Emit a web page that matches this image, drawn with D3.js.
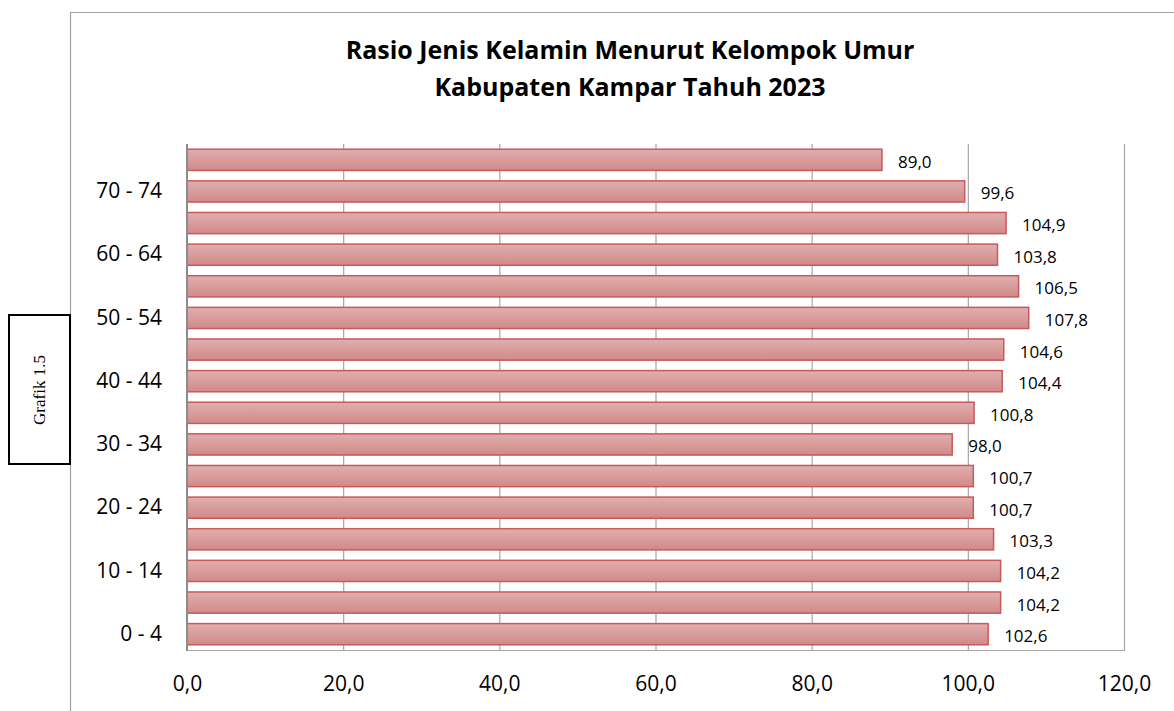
<!DOCTYPE html>
<html>
<head>
<meta charset="utf-8">
<script src="https://cdn.jsdelivr.net/npm/d3@7"></script>
<style>
  body { margin: 0; background: #fff; }
  text { font-family: "Open Sans", "Noto Sans", sans-serif; }
</style>
</head>
<body>
<div id="chart"></div>
<script>
// age groups, bottom to top
var ageGroups = ["0 - 4", "5 - 9", "10 - 14", "15 - 19", "20 - 24", "25 - 29", "30 - 34", "35 - 39",
    "40 - 44", "45 - 49", "50 - 54", "55 - 59", "60 - 64", "65 - 69", "70 - 74", "75+"];
var sexRatio = [102.6, 104.2, 104.2, 103.3, 100.7, 100.7, 98.0, 100.8,
    104.4, 104.6, 107.8, 106.5, 103.8, 104.9, 99.6, 89.0];
var xTicks = [0, 20, 40, 60, 80, 100, 120];
var titleLines = ["Rasio Jenis Kelamin Menurut Kelompok Umur", "Kabupaten Kampar Tahuh 2023"];

var width = 1174, height = 711;
var plot = { left: 187, right: 1124, top: 144, bottom: 650 };

var svg = d3.select("#chart").append("svg")
    .attr("width", width)
    .attr("height", height);

var defs = svg.append("defs");
var grad = defs.append("linearGradient")
    .attr("id", "barFill")
    .attr("x1", 0).attr("y1", 0).attr("x2", 0).attr("y2", 1);
grad.append("stop").attr("offset", "0%").attr("stop-color", "#e0afaf");
grad.append("stop").attr("offset", "100%").attr("stop-color", "#d18989");

// outer chart frame
svg.append("path")
    .attr("d", "M70.5," + height + "V12.5H" + width)
    .attr("fill", "none")
    .attr("stroke", "#a0a0a0")
    .attr("stroke-width", 1.2);

// side box
svg.append("rect")
    .attr("x", 9).attr("y", 315)
    .attr("width", 61).attr("height", 149)
    .attr("fill", "#fff")
    .attr("stroke", "#000")
    .attr("stroke-width", 2);
svg.append("text")
    .attr("transform", "translate(45,390) rotate(-90)")
    .attr("text-anchor", "middle")
    .style("font-family", "'Liberation Serif', 'DejaVu Serif', serif")
    .style("font-size", "17px")
    .text("Grafik 1.5");

// title
svg.selectAll(".title")
    .data(titleLines)
    .enter().append("text")
    .attr("class", "title")
    .attr("x", 630)
    .attr("y", function (d, i) { return 59 + i * 37; })
    .attr("text-anchor", "middle")
    .style("font-weight", "bold")
    .style("font-size", "25px")
    .text(function (d) { return d; });

var x = d3.scaleLinear()
    .domain([0, 120])
    .range([plot.left, plot.right]);

var y = d3.scaleBand()
    .domain(ageGroups.slice().reverse())
    .range([plot.top, plot.bottom])
    .paddingInner(0.33)
    .paddingOuter(0.165);

var fmt = function (v) { return d3.format(".1f")(v).replace(".", ","); };

// gridlines
svg.append("g")
    .selectAll("line")
    .data(xTicks.slice(1))
    .enter().append("line")
    .attr("x1", function (d) { return x(d) + 0.5; })
    .attr("x2", function (d) { return x(d) + 0.5; })
    .attr("y1", plot.top)
    .attr("y2", plot.bottom)
    .attr("stroke", "#a6a6a6")
    .attr("stroke-width", 1.2);

// bottom border
svg.append("line")
    .attr("x1", plot.left).attr("x2", plot.right + 1)
    .attr("y1", plot.bottom + 0.5).attr("y2", plot.bottom + 0.5)
    .attr("stroke", "#a6a6a6")
    .attr("stroke-width", 1.2);

// bars
svg.append("g")
    .selectAll("rect")
    .data(ageGroups)
    .enter().append("rect")
    .attr("x", x(0))
    .attr("y", function (d) { return y(d); })
    .attr("width", function (d, i) { return x(sexRatio[i]) - x(0); })
    .attr("height", y.bandwidth())
    .attr("fill", "url(#barFill)")
    .attr("stroke", "#c9595a")
    .attr("stroke-width", 1.5);

// value labels
svg.append("g")
    .selectAll("text")
    .data(ageGroups)
    .enter().append("text")
    .attr("x", function (d, i) { return x(sexRatio[i]) + 16; })
    .attr("y", function (d) { return y(d) + y.bandwidth() / 2 + 2; })
    .attr("dy", "0.35em")
    .style("font-size", "17px")
    .text(function (d, i) { return fmt(sexRatio[i]); });

// y axis line
svg.append("line")
    .attr("x1", plot.left).attr("x2", plot.left)
    .attr("y1", plot.top).attr("y2", plot.bottom + 1)
    .attr("stroke", "#8c8c8c")
    .attr("stroke-width", 2);

// y labels, every other group
var yAxis = d3.axisLeft(y)
    .tickSize(0)
    .tickPadding(25)
    .tickValues(ageGroups.filter(function (d, i) { return i % 2 === 0; }));
var yg = svg.append("g")
    .attr("transform", "translate(" + plot.left + ",0)")
    .call(yAxis);
yg.select(".domain").remove();
yg.selectAll("text")
    .style("font-size", "21px")
    .style("font-family", "'Open Sans', sans-serif")
    .attr("fill", "#000");

// x axis labels
var xAxis = d3.axisBottom(x)
    .tickValues(xTicks)
    .tickSize(0)
    .tickPadding(26)
    .tickFormat(fmt);
var xg = svg.append("g")
    .attr("transform", "translate(0," + plot.bottom + ")")
    .call(xAxis);
xg.select(".domain").remove();
xg.selectAll("text")
    .style("font-size", "21px")
    .style("font-family", "'Open Sans', sans-serif")
    .attr("fill", "#000");
</script>
</body>
</html>
